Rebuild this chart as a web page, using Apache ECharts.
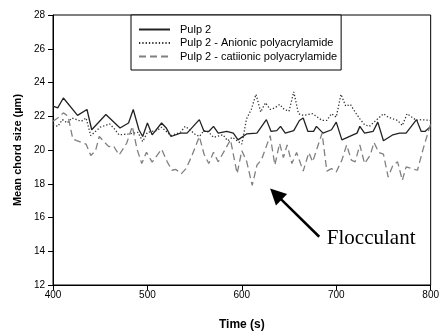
<!DOCTYPE html>
<html>
<head>
<meta charset="utf-8">
<script src="https://cdn.jsdelivr.net/npm/echarts@6/dist/echarts.min.js"></script>
<style>html,body{margin:0;padding:0;background:#fff}#c{width:442px;height:336px}</style>
</head>
<body>
<div id="c"></div>
<script>
var seriesNames = ['Pulp 2', 'Pulp 2 - Anionic polyacrylamide', 'Pulp 2 - catiionic polyacrylamide'];

var pulpTimes = [400,405,411,426,436,441,456,471,480,485,491,495,500,505,515,520,525,535,542,555,560,565,570,575,584,591,596,605,616,626,631,637,641,646,655,661,665,670,676,679,686,695,700,706,716,722,725,730,739,744,750,760,767,774,785,790,794,800];
var pulpValues = [22.6,22.5,23.08,22.05,22.4,21.2,22.1,21.3,21.6,22.4,21.2,20.8,21.6,20.9,21.6,21.3,20.8,21.0,21.0,21.8,21.1,21.1,21.4,21.0,21.1,21.0,20.6,20.95,21.0,21.8,21.1,21.15,21.4,21.0,21.15,21.75,21.9,21.1,21.1,21.4,21.0,21.2,21.65,20.6,20.85,21.0,21.4,21.0,21.1,21.65,20.55,20.9,21.0,21.0,21.8,21.1,21.1,21.4];

var anionicTimes = [400,405,410,415,420,430,435,440,450,460,465,470,480,490,495,500,510,515,525,535,540,545,550,555,560,565,570,580,585,590,600,605,610,615,620,625,630,635,640,645,650,655,660,665,670,675,680,685,690,695,700,705,710,715,720,725,730,735,740,750,755,760,765,770,775,785,790,800];
var anionicValues = [21.5,21.4,21.8,21.6,21.9,21.7,21.9,20.85,21.35,21.55,21.25,20.9,20.95,21.05,20.5,21.05,21.15,21.35,20.85,21.05,21.4,21.2,20.95,20.8,21.15,21.05,20.75,20.9,20.55,20.75,20.35,21.85,22.4,23.3,22.25,22.8,22.4,22.5,22.7,22.4,22.3,23.45,22.15,22.05,22.1,22.15,21.95,21.75,21.75,22.15,21.95,23.3,22.6,22.7,22.25,21.85,21.5,21.4,21.65,22.15,21.95,21.85,21.75,21.45,22.15,21.75,21.8,21.75];

var cationicTimes = [400,405,411,416,421,430,435,440,445,449,454,459,464,470,478,484,489,494,499,505,515,521,526,530,536,541,547,555,560,565,570,575,582,588,595,600,605,611,616,621,630,635,640,644,648,653,658,665,671,675,685,690,695,700,706,711,716,720,725,730,736,740,745,750,755,760,765,770,774,780,786,792,797,800];
var cationicValues = [21.7,21.9,22.2,22.0,20.65,20.45,20.35,19.67,19.95,20.8,20.5,20.2,20.25,19.7,20.4,21.4,20.05,19.2,19.86,19.28,20.05,19.3,18.8,18.85,18.6,18.9,19.65,20.8,19.75,19.2,19.86,19.3,20.0,20.6,18.6,19.96,19.35,17.9,19.1,19.45,20.85,19.1,20.4,19.55,20.3,19.2,19.85,18.75,19.85,19.3,21.0,18.75,18.9,18.7,19.4,20.3,19.4,19.3,20.3,19.2,19.7,20.45,19.85,19.75,18.4,19.1,19.3,18.2,19.0,18.9,18.8,20.05,21.0,21.55];

var xTicks = [400, 500, 600, 700, 800];
var yTicks = [12, 14, 16, 18, 20, 22, 24, 26, 28];

var arrowFrom = [682, 14.86];
var arrowTo = [636, 17.38];
var annotationPos = [737, 14.76];
var annotationText = 'Flocculant';

function zip(t, v) { return t.map(function (x, i) { return [x, v[i]]; }); }

var chart = echarts.init(document.getElementById('c'), null, {renderer: 'canvas'});
var font = 'Liberation Sans, Arial, sans-serif';
chart.setOption({
  animation: false,
  backgroundColor: '#fff',
  grid: {left: 53, top: 15, right: 11, bottom: 49, show: true, borderColor: '#000', borderWidth: 1, backgroundColor: 'transparent'},
  legend: {
    orient: 'vertical', left: 131, top: 15,
    padding: [9, 4, 8, 7], itemGap: 2.5, itemWidth: 31, itemHeight: 11,
    borderColor: '#000', borderWidth: 1, backgroundColor: '#fff',
    itemStyle: {color: 'rgba(0,0,0,0)', borderColor: 'rgba(0,0,0,0)', borderWidth: 0, opacity: 0},
    textStyle: {fontFamily: font, fontSize: 11, color: '#000', padding: [0, 0, 0, 5]},
    data: seriesNames
  },
  xAxis: {
    type: 'value', min: xTicks[0], max: xTicks[xTicks.length - 1], interval: 100,
    name: 'Time (s)', nameLocation: 'middle', nameGap: 34,
    nameTextStyle: {fontFamily: font, fontSize: 12, fontWeight: 'bold', color: '#000'},
    axisLine: {lineStyle: {color: '#000', width: 1}},
    axisTick: {show: true, length: 5, lineStyle: {color: '#000'}},
    axisLabel: {fontFamily: font, fontSize: 10, color: '#000', margin: 5},
    splitLine: {show: false}
  },
  yAxis: {
    type: 'value', min: yTicks[0], max: yTicks[yTicks.length - 1], interval: 2,
    name: 'Mean chord size (\u00b5m)', nameLocation: 'middle', nameGap: 30,
    nameTextStyle: {fontFamily: font, fontSize: 11, fontWeight: 'bold', color: '#000'},
    axisLine: {show: true, lineStyle: {color: '#000', width: 1}},
    axisTick: {show: true, length: 5, lineStyle: {color: '#000'}},
    axisLabel: {fontFamily: font, fontSize: 10, color: '#000', margin: 8},
    splitLine: {show: false}
  },
  series: [
    {
      name: seriesNames[0], type: 'line', data: zip(pulpTimes, pulpValues),
      showSymbol: false, symbol: 'none', color: '#222',
      lineStyle: {color: '#222', width: 1.3, type: 'solid'}
    },
    {
      name: seriesNames[1], type: 'line', data: zip(anionicTimes, anionicValues),
      showSymbol: false, symbol: 'none', color: '#333',
      lineStyle: {color: '#333', width: 1.3, type: [1.3, 2]}
    },
    {
      name: seriesNames[2], type: 'line', data: zip(cationicTimes, cationicValues),
      showSymbol: false, symbol: 'none', color: '#808080',
      lineStyle: {color: '#808080', width: 1.3, type: [7, 4]},
      markLine: {
        silent: true, animation: false,
        symbol: ['none', 'triangle'], symbolSize: 16,
        lineStyle: {color: '#000', width: 2.5, type: 'solid'},
        label: {show: false},
        data: [[{coord: arrowFrom}, {coord: arrowTo}]]
      },
      markPoint: {
        silent: true, animation: false,
        symbol: 'circle', symbolSize: 0,
        label: {show: true, position: 'inside', formatter: annotationText, fontFamily: 'Liberation Serif, Times New Roman, serif', fontSize: 21, color: '#000'},
        data: [{coord: annotationPos}]
      }
    }
  ]
});
</script>
</body>
</html>
